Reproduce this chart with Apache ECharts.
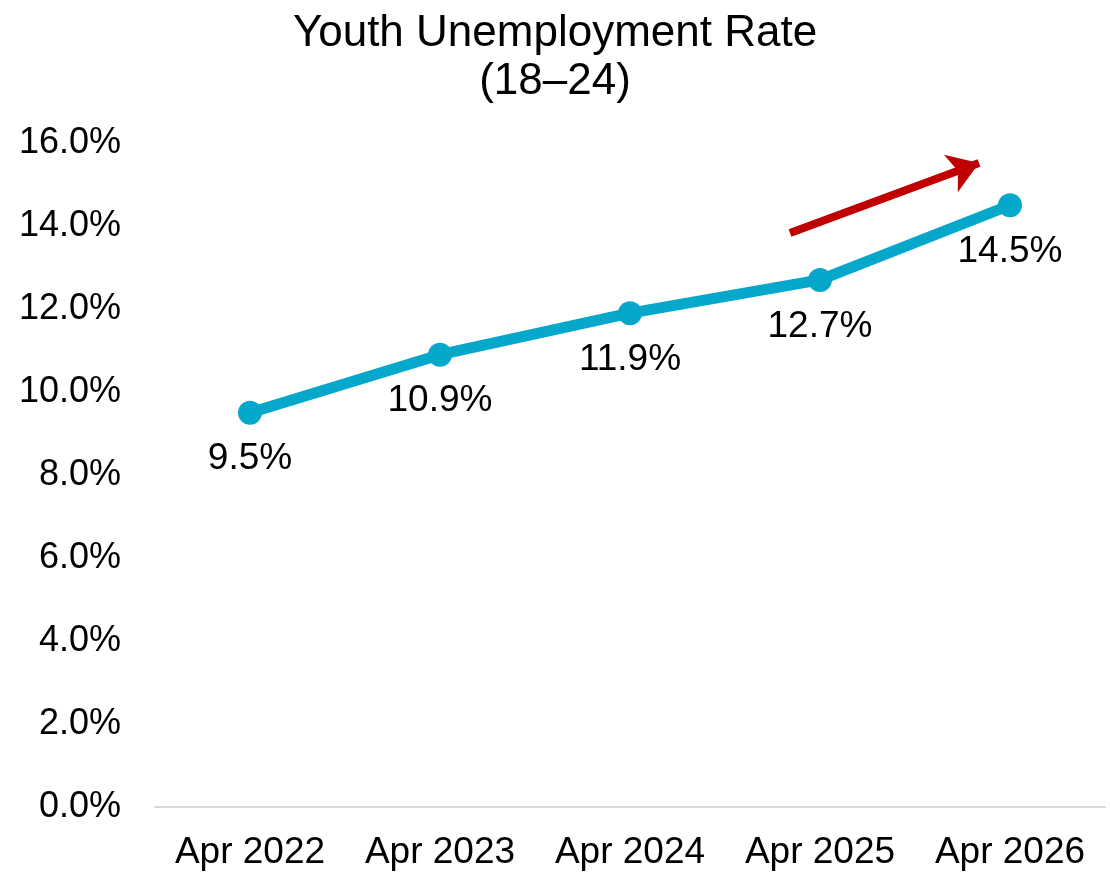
<!DOCTYPE html>
<html>
<head>
<meta charset="utf-8">
<script src="https://cdn.jsdelivr.net/npm/echarts@6/dist/echarts.min.js"></script>
<style>
  html, body { margin: 0; padding: 0; background: #fff; }
  #chart { width: 1110px; height: 874px; }
</style>
</head>
<body>
<div id="chart"></div>
<script>
// Survey periods and youth (18–24) unemployment rate, percent
const periods = ['Apr 2022', 'Apr 2023', 'Apr 2024', 'Apr 2025', 'Apr 2026'];
const rates = [9.5, 10.9, 11.9, 12.7, 14.5];
const yMin = 0, yMax = 16, yStep = 2;

const FONT = '"Liberation Sans", Arial, sans-serif';

const chart = echarts.init(document.getElementById('chart'));
chart.setOption({
  animation: false,
  backgroundColor: '#ffffff',
  title: {
    text: 'Youth Unemployment Rate\n(18–24)',
    left: 'center',
    top: 5,
    textStyle: { fontFamily: FONT, fontSize: 44, fontWeight: 'normal', color: '#000', lineHeight: 48 }
  },
  grid: { left: 155, right: 5, top: 143, bottom: 67, containLabel: false },
  xAxis: {
    type: 'category',
    data: periods,
    boundaryGap: true,
    axisLine: { lineStyle: { color: '#D9D9D9', width: 2 } },
    axisTick: { show: false },
    axisLabel: { interval: 0, hideOverlap: false, fontFamily: FONT, fontSize: 37, color: '#000', margin: 27 }
  },
  yAxis: {
    type: 'value',
    min: yMin, max: yMax, interval: yStep,
    axisLine: { show: false },
    axisTick: { show: false },
    splitLine: { show: false },
    axisLabel: {
      fontFamily: FONT, fontSize: 36, color: '#000', margin: 34,
      formatter: v => v.toFixed(1) + '%'
    }
  },
  series: [{
    type: 'line',
    data: rates,
    symbol: 'circle',
    symbolSize: 24,
    lineStyle: { color: '#05A7CA', width: 11 },
    itemStyle: { color: '#05A7CA' },
    label: {
      show: true,
      position: 'bottom',
      distance: 16,
      fontFamily: FONT, fontSize: 37, color: '#000',
      formatter: p => p.value.toFixed(1) + '%'
    },
    markLine: {
      silent: true,
      symbol: ['none', 'arrow'],
      symbolSize: [30, 30],
      label: { show: false },
      lineStyle: { color: '#C00000', width: 8, type: 'solid' },
      data: [[{ x: 790, y: 233 }, { x: 979, y: 163 }]]
    }
  }]
});
</script>
</body>
</html>
